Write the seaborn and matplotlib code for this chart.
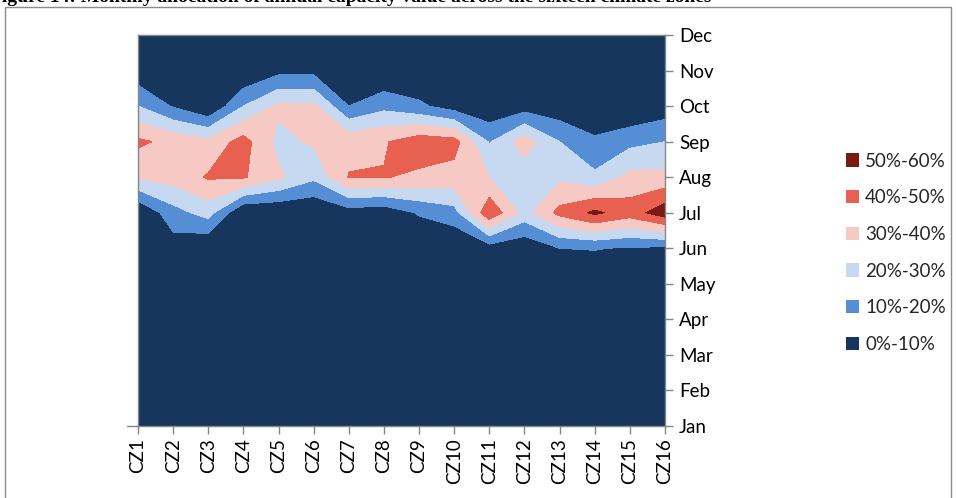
import numpy as np
import pandas as pd
import seaborn as sns
import matplotlib
matplotlib.use("Agg")
import matplotlib.pyplot as plt
from matplotlib.patches import Patch, Rectangle
from matplotlib.lines import Line2D

sns.set_theme(style="white")
plt.rcParams['font.family'] = ['Lato', 'DejaVu Sans']

zones = ['CZ1', 'CZ2', 'CZ3', 'CZ4', 'CZ5', 'CZ6', 'CZ7', 'CZ8',
         'CZ9', 'CZ10', 'CZ11', 'CZ12', 'CZ13', 'CZ14', 'CZ15', 'CZ16']
months = ['Jan', 'Feb', 'Mar', 'Apr', 'May', 'Jun',
          'Jul', 'Aug', 'Sep', 'Oct', 'Nov', 'Dec']

# capacity-value share (%) per month (rows) and climate zone (columns)
jan = [1, 1, 1, 1, 1, 1, 1, 1, 1, 1, 1, 1, 1, 1, 1, 1]
feb = [1, 1, 1, 1, 1, 1, 1, 1, 1, 1, 1, 1, 1, 1, 1, 1]
mar = [1, 1, 1, 1, 1, 1, 1, 1, 1, 1, 1, 1, 1, 1, 1, 1]
apr = [1, 1, 1, 1, 1, 1, 1, 1, 1, 1, 1, 1, 1, 1, 1, 1]
may = [1, 2, 1, 1, 1, 1, 1, 1, 1, 1, 2, 1, 2, 2, 2, 2]
jun = [0, 5, 0, 0, 0, 0, 0, 0, 0, 0, 5, 2, 10, 10.5, 9, 8]
jul = [0, 16, 24, 0, 0, 0, 5, 3, 11, 16, 48, 26, 43, 52, 45, 56]
aug = [31, 34, 41, 41, 32, 22, 40.5, 40.5, 38, 36, 30, 24, 28, 22, 33, 33]
sep = [42, 37, 33, 44, 27, 31.5, 37, 39, 46, 44, 19, 35, 20, 12, 17, 20]
oct_ = [20, 9, 0, 20, 32, 32, 10, 17, 12, 5, 2, 5, 3, 0, 0, 4]
nov = [3, 0, 0, 0, 7, 7, 0, 0, 0, 0, 0, 0, 0, 0, 0, 0]
dec = [0, 0, 0, 0, 0, 0, 0, 0, 0, 0, 0, 0, 0, 0, 0, 0]

band_labels = ['0%-10%', '10%-20%', '20%-30%', '30%-40%', '40%-50%', '50%-60%']
levels = [0, 10, 20, 30, 40, 50, 60]
colors = ['#17365D', '#558ED5', '#C6D9F1', '#F7C9C4', '#E8604F', '#7A1A12']

df = pd.DataFrame([jan, feb, mar, apr, may, jun, jul, aug, sep, oct_, nov, dec],
                  index=months, columns=zones)

W, H = 956, 498
fig = plt.figure(figsize=(W / 100, H / 100), dpi=100)
fig.patch.set_facecolor('white')

# chart-area frame
fig.add_artist(Rectangle((5 / W, -0.05), (951 - 5) / W, 1.05 - 7 / H,
                         transform=fig.transFigure, fill=False,
                         edgecolor='#8c8c8c', linewidth=1))

# caption above the chart, only its lower edge falls inside the picture
fig.text(-10 / W, 1 - 2 / H,
         'Figure 14: Monthly allocation of annual capacity value across the sixteen climate zones',
         family=['Liberation Serif', 'DejaVu Serif'], fontweight='bold',
         fontsize=14, ha='left', va='baseline', color='black')

ax = fig.add_axes([138 / W, 1 - 426 / H, (665 - 138) / W, (426 - 35) / H])
x = np.arange(len(zones))
y = np.arange(len(months))
ax.contourf(x, y, df.values, levels=levels, colors=colors)

ax.set_xlim(0, len(zones) - 1)
ax.set_ylim(0, len(months) - 1)
ax.set_xticks(x)
ax.set_xticklabels(zones, rotation=90)
ax.set_yticks(y)
ax.set_yticklabels(months)
ax.yaxis.tick_right()
axis_grey = '#868686'
ax.tick_params(axis='both', which='major', direction='out', length=6,
               width=1, color=axis_grey, labelsize=13.5, labelcolor='black')
ax.tick_params(axis='x', bottom=True, top=False, pad=3)
ax.tick_params(axis='y', right=True, left=False, pad=4)
for s in ax.spines.values():
    s.set_visible(True)
    s.set_color(axis_grey)
    s.set_linewidth(1)
ax.set_xlabel('')
ax.set_ylabel('')
# base line extends a little to the left of the plot
ax.add_line(Line2D([-0.3, 0], [0, 0], color=axis_grey, linewidth=1,
                   clip_on=False))

handles = [Patch(facecolor=c, edgecolor='none') for c in colors[::-1]]
fig.legend(handles, band_labels[::-1], loc='upper left',
           bbox_to_anchor=(838 / W, 1 - 145 / H), frameon=False,
           fontsize=13.5, handlelength=0.7, handleheight=0.7,
           handletextpad=0.35, labelspacing=1.05, borderaxespad=0)

fig.savefig('out.png', dpi=100)
